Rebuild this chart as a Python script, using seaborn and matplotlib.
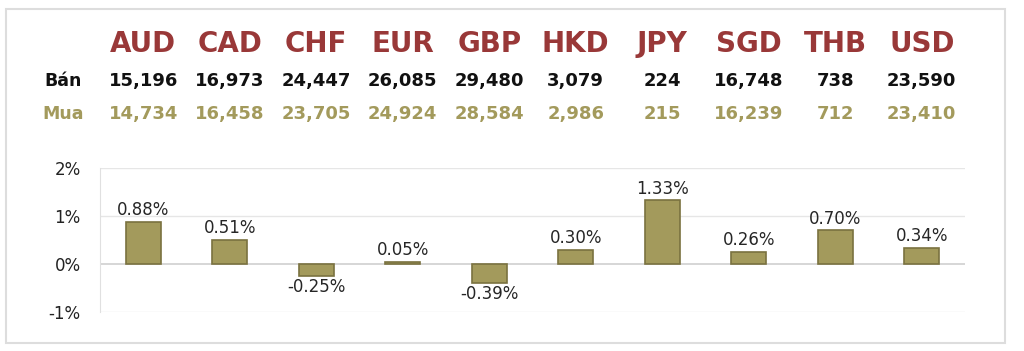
import numpy as np
import pandas as pd
import seaborn as sns
import matplotlib.pyplot as plt
import matplotlib.transforms as mtransforms
from matplotlib.patches import Rectangle

currencies = ['AUD', 'CAD', 'CHF', 'EUR', 'GBP', 'HKD', 'JPY', 'SGD', 'THB', 'USD']
ban = ['15,196', '16,973', '24,447', '26,085', '29,480', '3,079', '224', '16,748', '738', '23,590']
mua = ['14,734', '16,458', '23,705', '24,924', '28,584', '2,986', '215', '16,239', '712', '23,410']
change = [0.88, 0.51, -0.25, 0.05, -0.39, 0.30, 1.33, 0.26, 0.70, 0.34]

df = pd.DataFrame({'currency': currencies, 'change': change})

sns.set_style('white')
plt.rcParams['font.family'] = ['DejaVu Sans']

fig = plt.figure(figsize=(10.24, 3.51), dpi=100)
ax = fig.add_axes([100/1024, 1 - 312/351, 865/1024, 144/351])

sns.barplot(data=df, x='currency', y='change', color='#A39A5C', width=0.4,
            edgecolor='#7A7240', linewidth=1.2, saturation=1, ax=ax)

ax.set_ylim(-1, 2)
ax.set_xlim(-0.5, 9.5)
ax.set_yticks([-1, 0, 1, 2])
ax.set_yticklabels(['-1%', '0%', '1%', '2%'], fontsize=12, color='#222222')
ax.tick_params(axis='y', length=0, pad=14)
ax.set_xticks([])
ax.set_xlabel('')
ax.set_ylabel('')
for y in [-1, 1, 2]:
    ax.axhline(y, color='#E6E6E6', lw=1, zorder=0)
ax.axhline(0, color='#D0D0D0', lw=1.2, zorder=0)
for s in ['top', 'right', 'bottom']:
    ax.spines[s].set_visible(False)
ax.spines['left'].set_color('#E0E0E0')

for i, v in enumerate(change):
    if v >= 0:
        ax.text(i, v + 0.05, f'{v:.2f}%', ha='center', va='bottom', fontsize=12)
    else:
        ax.text(i, v - 0.05, f'{v:.2f}%', ha='center', va='top', fontsize=12)

# header rows above the chart
tr = mtransforms.blended_transform_factory(ax.transData, fig.transFigure)
for i, c in enumerate(currencies):
    fig.text(i, 1 - 44/351, c, transform=tr, ha='center', va='center',
             fontsize=20, fontweight='bold', color='#993838')
    fig.text(i, 1 - 81/351, ban[i], transform=tr, ha='center', va='center',
             fontsize=13, fontweight='bold', color='#111111')
    fig.text(i, 1 - 114/351, mua[i], transform=tr, ha='center', va='center',
             fontsize=13, fontweight='bold', color='#A39A5C')
fig.text(63/1024, 1 - 81/351, 'Bán', ha='center', va='center',
         fontsize=12.5, fontweight='bold', color='#111111')
fig.text(63/1024, 1 - 114/351, 'Mua', ha='center', va='center',
         fontsize=12.5, fontweight='bold', color='#A39A5C')

# light outer frame
fig.patches.append(Rectangle((6/1024, 8/351), 999/1024, 334/351, transform=fig.transFigure,
                             fill=False, edgecolor='#DDDDDD', lw=1.5))

fig.savefig('out.png', dpi=100)
